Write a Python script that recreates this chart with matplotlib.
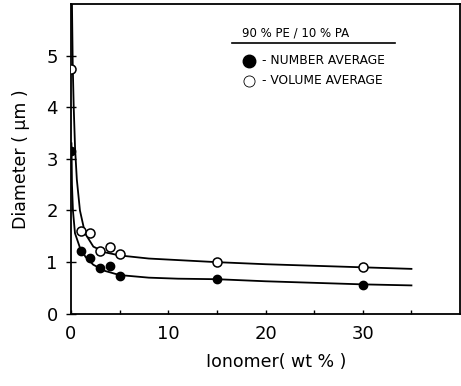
import matplotlib
matplotlib.use("Agg")
import matplotlib.pyplot as plt

plt.rcParams['font.family'] = ['DejaVu Sans']

# measured points
ionomer = [0, 1, 2, 3, 4, 5, 15, 30]
number_avg = [3.15, 1.22, 1.09, 0.88, 0.92, 0.74, 0.67, 0.56]
volume_avg = [4.74, 1.61, 1.56, 1.22, 1.30, 1.16, 1.00, 0.90]

# fitted curves
number_curve_x = [0.05, 0.1, 0.2, 0.41, 0.92, 1.5, 2.29, 3.5, 5, 8, 11, 15, 20, 25, 30, 35]
number_curve_y = [3.3, 2.5, 2.0, 1.56, 1.28, 1.10, 0.95, 0.83, 0.75, 0.70, 0.68, 0.67, 0.63, 0.60, 0.57, 0.55]
volume_curve_x = [0.1, 0.18, 0.28, 0.42, 0.6, 0.92, 1.44, 2.3, 3.5, 5, 8, 11, 15, 20, 25, 30, 35]
volume_curve_y = [6.0, 4.8, 4.0, 3.2, 2.6, 2.0, 1.56, 1.30, 1.19, 1.13, 1.07, 1.04, 1.00, 0.96, 0.93, 0.90, 0.87]

fig = plt.figure(figsize=(4.61, 3.86), dpi=100)
ax = fig.add_axes([0.154, 0.187, 0.844, 0.803])

ax.plot(number_curve_x, number_curve_y, color='black', lw=1.3)
ax.plot(volume_curve_x, volume_curve_y, color='black', lw=1.3)
ax.plot(ionomer, number_avg, 'o', color='black', ms=6, zorder=3)
ax.plot(ionomer, volume_avg, 'o', mfc='white', mec='black', mew=1.1, ms=6.5, zorder=3)

ax.set_xlim(0, 40)
ax.set_ylim(0, 6)
ax.set_xticks([0, 10, 20, 30])
ax.set_xticks([5, 15, 25, 35], minor=True)
ax.set_yticks([0, 1, 2, 3, 4, 5])
ax.tick_params(axis='x', which='both', direction='in', length=3, width=1, labelsize=13, pad=8)
ax.tick_params(axis='y', direction='inout', length=7, width=1, labelsize=13, pad=6)
for s in ax.spines.values():
    s.set_linewidth(1.3)

ax.set_xlabel('Ionomer( wt % )', fontsize=12.5)
ax.xaxis.set_label_coords(0.528, -0.126)
ax.set_ylabel('Diameter ( μm )', fontsize=12.5)
ax.yaxis.set_label_coords(-0.105, 0.5)

# legend block
ax.text(0.576, 0.907, '90 % PE / 10 % PA', transform=ax.transAxes, ha='center', va='center', fontsize=8.5)
ax.plot([0.413, 0.833], [0.873, 0.873], transform=ax.transAxes, color='black', lw=1.2)
ax.plot(0.458, 0.817, 'o', transform=ax.transAxes, color='black', ms=9)
ax.text(0.49, 0.817, '- NUMBER AVERAGE', transform=ax.transAxes, va='center', fontsize=8.8)
ax.plot(0.458, 0.752, 'o', transform=ax.transAxes, mfc='white', mec='black', mew=0.6, ms=8, ls='none')
ax.text(0.49, 0.752, '- VOLUME AVERAGE', transform=ax.transAxes, va='center', fontsize=8.8)

fig.savefig('out.png', dpi=100)
